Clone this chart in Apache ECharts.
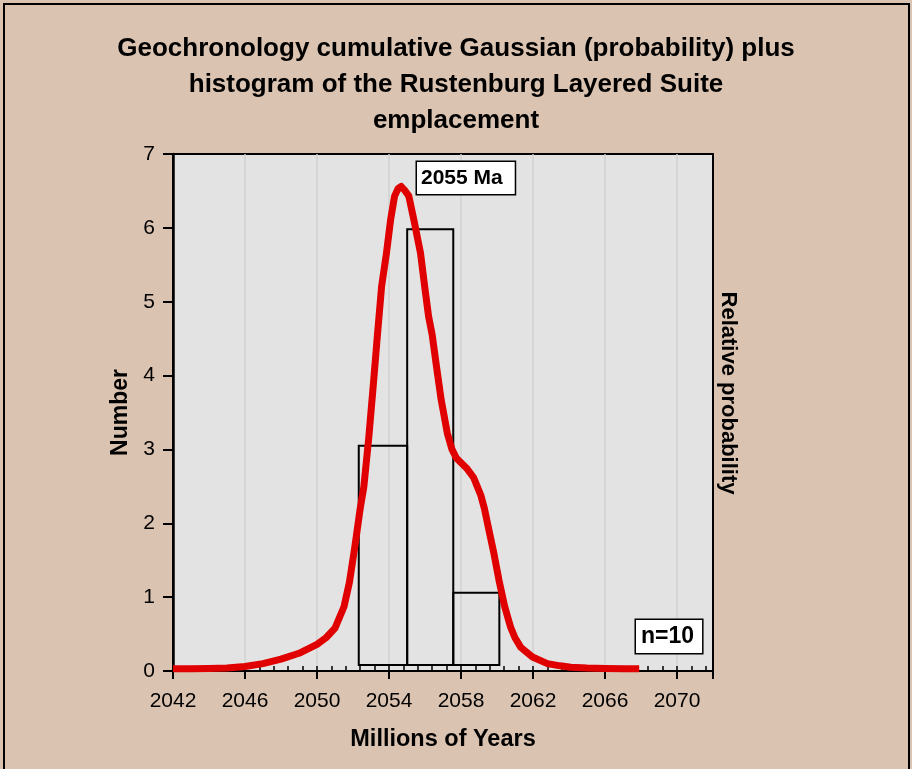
<!DOCTYPE html>
<html>
<head>
<meta charset="utf-8">
<script src="https://cdn.jsdelivr.net/npm/echarts@6/dist/echarts.min.js"></script>
<style>
  html, body { margin: 0; padding: 0; background: #dbc3b1; }
  #chart { width: 912px; height: 769px; }
</style>
</head>
<body>
<div id="chart"></div>
<script>
// x values are plotted as years after X0 so that ticks land on 2042, 2046, ...
var X0 = 2042;
var xTickLabels = ['2042', '2046', '2050', '2054', '2058', '2062', '2066', '2070'];

// relative probability curve
var curveYears = [
    2042.0, 2043.0, 2044.0, 2045.0, 2046.0, 2047.0, 2048.0, 2049.0, 2050.0, 2050.5,
    2051.0, 2051.5, 2051.8, 2052.1, 2052.4, 2052.6, 2052.88, 2053.12, 2053.35, 2053.59,
    2053.86, 2054.09, 2054.31, 2054.5, 2054.68, 2054.9, 2055.1, 2055.38, 2055.75, 2055.98,
    2056.2, 2056.4, 2056.64, 2056.9, 2057.24, 2057.5, 2057.75, 2058.3, 2058.7, 2058.9,
    2059.1, 2059.3, 2059.55, 2059.83, 2060.11, 2060.43, 2060.76, 2061.0, 2061.32, 2061.97,
    2062.8, 2063.5, 2064.1, 2065.0, 2066.0, 2067.0, 2067.9
];
var curveValues = [
    0.03, 0.03, 0.035, 0.04, 0.06, 0.10, 0.16, 0.24, 0.36, 0.45,
    0.58, 0.87, 1.2, 1.68, 2.2, 2.49, 3.17, 3.85, 4.53, 5.21,
    5.66, 6.11, 6.43, 6.53, 6.56, 6.5, 6.43, 6.11, 5.66, 5.21,
    4.8, 4.55, 4.12, 3.67, 3.22, 3.0, 2.88, 2.75, 2.62, 2.5,
    2.38, 2.2, 1.91, 1.59, 1.23, 0.87, 0.59, 0.45, 0.32, 0.19,
    0.10, 0.07, 0.05, 0.04, 0.035, 0.03, 0.03
];

// histogram bins
var binEdges = [2052.32, 2055.01, 2057.57, 2060.13];
var binTops = [3.05, 5.98, 1.06];
var barBase = 0.08;

var font = 'Liberation Sans, Arial, sans-serif';

var curveData = curveYears.map(function (y, i) { return [y - X0, curveValues[i]]; });
var barData = binTops.map(function (t, i) {
    return [binEdges[i] - X0, binEdges[i + 1] - X0, t];
});

var chart = echarts.init(document.getElementById('chart'));

var option = {
    backgroundColor: '#dbc3b1',
    animation: false,
    textStyle: { fontFamily: font, color: '#000' },
    title: {
        text: 'Geochronology cumulative Gaussian (probability) plus\nhistogram of the Rustenburg Layered Suite\nemplacement',
        left: 'center',
        top: 26,
        textStyle: { fontFamily: font, fontSize: 26, fontWeight: 'bold', lineHeight: 36, color: '#000' }
    },
    grid: {
        left: 173, right: 199, top: 154, bottom: 98,
        show: true,
        backgroundColor: '#e3e3e3',
        borderColor: '#000',
        borderWidth: 2
    },
    xAxis: [
        {
            type: 'value',
            min: 0,
            max: 30,
            interval: 4,
            name: 'Millions of Years',
            nameLocation: 'middle',
            nameGap: 57,
            nameTextStyle: { fontFamily: font, fontSize: 23.5, fontWeight: 'bold', color: '#000' },
            axisLine: { show: true, lineStyle: { color: '#000', width: 2 } },
            axisTick: { show: true, inside: false, length: 8, lineStyle: { color: '#000', width: 2 } },
            axisLabel: {
                margin: 20,
                fontFamily: font,
                fontSize: 21,
                color: '#000',
                formatter: function (v) {
                    var k = Math.round(v / 4);
                    return (v % 4 === 0 && xTickLabels[k]) ? xTickLabels[k] : '';
                }
            },
            splitLine: {
                show: true,
                showMinLine: false,
                showMaxLine: false,
                lineStyle: { color: '#d2d2d2', width: 1.5 }
            }
        },
        {
            // minor ticks pointing into the plot
            type: 'value',
            position: 'bottom',
            min: 0,
            max: 30,
            interval: 0.8,
            axisLine: { show: false },
            axisTick: { show: true, inside: true, length: 5, lineStyle: { color: '#000', width: 1.5 } },
            axisLabel: { show: false },
            splitLine: { show: false }
        }
    ],
    yAxis: [
        {
            type: 'value',
            min: 0,
            max: 7,
            interval: 1,
            name: 'Number',
            nameLocation: 'middle',
            nameGap: 38,
            nameTextStyle: { fontFamily: font, fontSize: 23, fontWeight: 'bold', color: '#000' },
            axisLine: { show: true, lineStyle: { color: '#000', width: 2 } },
            axisTick: { show: true, inside: false, length: 10, lineStyle: { color: '#000', width: 2 } },
            axisLabel: { margin: 18, fontFamily: font, fontSize: 21, color: '#000' },
            splitLine: { show: false }
        },
        {
            // right frame line of the plot
            type: 'value',
            position: 'right',
            min: 0,
            max: 7,
            axisLine: { show: true, lineStyle: { color: '#000', width: 2.5 } },
            axisTick: { show: false },
            axisLabel: { show: false },
            splitLine: { show: false }
        }
    ],
    graphic: [
        {
            type: 'rect',
            silent: true,
            shape: { x: 4, y: 4, width: 905, height: 800 },
            style: { fill: 'none', stroke: '#000', lineWidth: 2 }
        },
        {
            type: 'text',
            x: 728,
            y: 393,
            rotation: -Math.PI / 2,
            style: {
                text: 'Relative probability',
                font: 'bold 22px ' + font,
                fill: '#000',
                textAlign: 'center',
                textVerticalAlign: 'middle'
            }
        },
        {
            type: 'text',
            x: 417,
            y: 162,
            z: 10,
            style: {
                text: '2055 Ma',
                font: 'bold 21px ' + font,
                fill: '#000',
                backgroundColor: '#fff',
                borderColor: '#000',
                borderWidth: 1.5,
                padding: [5, 12, 5, 4],
                lineHeight: 22,
                textAlign: 'left',
                textVerticalAlign: 'top'
            }
        },
        {
            type: 'text',
            x: 636,
            y: 620,
            z: 10,
            style: {
                text: 'n=10',
                font: 'bold 23px ' + font,
                fill: '#000',
                backgroundColor: '#fff',
                borderColor: '#000',
                borderWidth: 1.5,
                padding: [5, 8, 5, 5],
                lineHeight: 23,
                textAlign: 'left',
                textVerticalAlign: 'top'
            }
        }
    ],
    series: [
        {
            name: 'Histogram',
            type: 'custom',
            z: 2,
            data: barData,
            encode: { x: [0, 1], y: 2 },
            renderItem: function (params, api) {
                var p0 = api.coord([api.value(0), barBase]);
                var p1 = api.coord([api.value(1), api.value(2)]);
                return {
                    type: 'rect',
                    shape: { x: p0[0], y: p1[1], width: p1[0] - p0[0], height: p0[1] - p1[1] },
                    style: { fill: 'none', stroke: '#000', lineWidth: 2 }
                };
            }
        },
        {
            name: 'Relative probability',
            type: 'line',
            z: 3,
            data: curveData,
            showSymbol: false,
            smooth: false,
            lineStyle: { color: '#e00000', width: 7, join: 'round', cap: 'butt' }
        }
    ]
};

chart.setOption(option);
</script>
</body>
</html>
